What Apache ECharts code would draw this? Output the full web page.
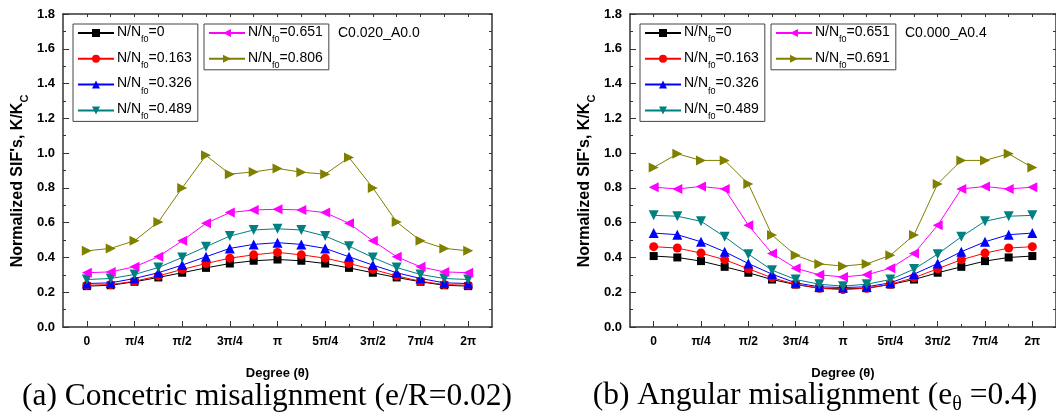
<!DOCTYPE html>
<html>
<head>
<meta charset="utf-8">
<script src="https://cdn.jsdelivr.net/npm/echarts@6/dist/echarts.min.js"></script>
<style>
  html, body { margin: 0; padding: 0; background: #fff; }
  #chart-container { width: 1056px; height: 416px; }
</style>
</head>
<body>
<div id="chart-container"></div>
<script>
// theta positions in steps of pi/8 (0 .. 16)
const steps = [0, 1, 2, 3, 4, 5, 6, 7, 8, 9, 10, 11, 12, 13, 14, 15, 16];
const tickLabels = ["0", "π/4", "π/2", "3π/4", "π", "5π/4", "3π/2", "7π/4", "2π"];

// (a) concentric misalignment, C0.020_A0.0
const leftLevels = ["0", "0.163", "0.326", "0.489", "0.651", "0.806"];
const left0 = [0.235, 0.240, 0.260, 0.285, 0.312, 0.340, 0.365, 0.381, 0.388, 0.381, 0.365, 0.340, 0.312, 0.285, 0.260, 0.240, 0.235];
const left163 = [0.240, 0.244, 0.263, 0.294, 0.331, 0.365, 0.396, 0.415, 0.429, 0.415, 0.396, 0.365, 0.331, 0.294, 0.263, 0.244, 0.240];
const left326 = [0.250, 0.254, 0.279, 0.312, 0.356, 0.404, 0.452, 0.475, 0.485, 0.475, 0.452, 0.404, 0.356, 0.312, 0.279, 0.254, 0.250];
const left489 = [0.273, 0.279, 0.302, 0.342, 0.400, 0.462, 0.523, 0.558, 0.565, 0.558, 0.523, 0.465, 0.400, 0.342, 0.302, 0.279, 0.273];
const left651 = [0.312, 0.317, 0.346, 0.404, 0.496, 0.596, 0.658, 0.673, 0.677, 0.673, 0.658, 0.596, 0.496, 0.404, 0.346, 0.317, 0.312];
const left806 = [0.438, 0.452, 0.496, 0.604, 0.800, 0.987, 0.879, 0.892, 0.912, 0.890, 0.879, 0.975, 0.800, 0.604, 0.496, 0.452, 0.438];

// (b) angular misalignment, C0.000_A0.4
const rightLevels = ["0", "0.163", "0.326", "0.489", "0.651", "0.691"];
const right0 = [0.408, 0.400, 0.379, 0.346, 0.312, 0.273, 0.244, 0.223, 0.219, 0.223, 0.244, 0.273, 0.312, 0.346, 0.379, 0.400, 0.408];
const right163 = [0.462, 0.454, 0.425, 0.387, 0.335, 0.283, 0.246, 0.223, 0.215, 0.223, 0.246, 0.283, 0.335, 0.387, 0.425, 0.454, 0.462];
const right326 = [0.540, 0.531, 0.490, 0.433, 0.365, 0.304, 0.254, 0.231, 0.227, 0.231, 0.254, 0.304, 0.365, 0.433, 0.490, 0.531, 0.540];
const right489 = [0.642, 0.637, 0.608, 0.519, 0.419, 0.327, 0.273, 0.246, 0.235, 0.246, 0.273, 0.333, 0.419, 0.519, 0.608, 0.637, 0.642];
const right651 = [0.804, 0.794, 0.808, 0.794, 0.585, 0.423, 0.338, 0.300, 0.288, 0.300, 0.338, 0.423, 0.585, 0.794, 0.808, 0.794, 0.804];
const right691 = [0.917, 0.996, 0.958, 0.958, 0.823, 0.529, 0.412, 0.363, 0.350, 0.363, 0.412, 0.529, 0.823, 0.958, 0.958, 0.996, 0.917];

(() => {
  const dom = document.getElementById("chart-container");
  const chart = echarts.init(dom, null, { renderer: "canvas" });

  const SANS = "Liberation Sans";
  const SERIF = "'Liberation Serif'";
  const AXIS = "#333";
  const colors = ["#000000", "#ff0000", "#0000ff", "#008080", "#ff00ff", "#808000"];
  const symbols = ["rect", "circle", "triangle", "triangle", "triangle", "triangle"];
  const rotates = [0, 0, 0, 180, 90, -90];
  const sizes = [8, 9, 10, 10, 10, 10];

  const majorSteps = steps.filter((s) => s % 2 === 0);
  const minorSteps = steps.filter((s) => s % 2 === 1);

  const plots = [
    { left: 63, label: "C0.020_A0.0", levels: leftLevels, data: [left0, left163, left326, left489, left651, left806], tag: "L" },
    { left: 630, label: "C0.000_A0.4", levels: rightLevels, data: [right0, right163, right326, right489, right651, right691], tag: "R" },
  ];

  const grid = [], xAxis = [], yAxis = [], series = [], legend = [], graphic = [];

  plots.forEach((p, g) => {
    grid.push({ left: p.left, top: 14, width: 429, height: 313 });
    const base = { type: "value", gridIndex: g, min: -1, max: 17, splitLine: { show: false } };
    // bottom axis with labels and major ticks
    xAxis.push({
      ...base,
      position: "bottom",
      name: "Degree (θ)",
      nameLocation: "middle",
      nameGap: 40,
      nameTextStyle: { fontFamily: SANS, fontWeight: "bold", fontSize: 13, color: "#000" },
      axisLine: { onZero: false, lineStyle: { color: AXIS, width: 1.5 } },
      axisTick: { inside: true, length: 6, customValues: majorSteps, lineStyle: { color: AXIS } },
      axisLabel: {
        customValues: majorSteps,
        margin: 9,
        fontFamily: SANS, fontWeight: "bold", fontSize: 12, color: "#000",
        formatter: (v) => tickLabels[v / 2],
      },
    });
    // minor ticks at odd multiples of pi/8
    xAxis.push({
      ...base,
      position: "bottom",
      axisLine: { show: false, onZero: false },
      axisTick: { inside: true, length: 3, customValues: minorSteps, lineStyle: { color: AXIS } },
      axisLabel: { show: false },
    });
    // top frame
    xAxis.push({
      ...base,
      position: "top",
      axisLine: { onZero: false, lineStyle: { color: AXIS, width: 1.5 } },
      axisTick: { inside: true, length: 3, customValues: steps, lineStyle: { color: AXIS } },
      axisLabel: { show: false },
    });

    yAxis.push({
      type: "value", gridIndex: g, min: 0, max: 1.8, interval: 0.2,
      position: "left",
      splitLine: { show: false },
      axisLine: { show: true, onZero: false, lineStyle: { color: AXIS, width: 1.5 } },
      axisTick: { inside: true, length: 6, lineStyle: { color: AXIS } },
      minorTick: { show: true, splitNumber: 2, length: 3, lineStyle: { color: AXIS } },
      axisLabel: {
        margin: 8,
        fontFamily: SANS, fontWeight: "bold", fontSize: 13, color: "#000",
        formatter: (v) => v.toFixed(1),
      },
    });
    yAxis.push({
      type: "value", gridIndex: g, min: 0, max: 1.8, interval: 0.1,
      position: "right",
      splitLine: { show: false },
      axisLine: { show: true, onZero: false, lineStyle: { color: AXIS, width: 1.5 } },
      axisTick: { inside: true, length: 3, lineStyle: { color: AXIS } },
      axisLabel: { show: false },
    });

    p.levels.forEach((lv, i) => {
      series.push({
        name: p.tag + "|" + lv,
        type: "line",
        xAxisIndex: g * 3,
        yAxisIndex: g * 2,
        data: p.data[i].map((v, k) => [steps[k], v]),
        color: colors[i],
        symbol: symbols[i],
        symbolRotate: rotates[i],
        symbolSize: sizes[i],
        showSymbol: true,
        lineStyle: { width: 1 },
        z: 2 + i,
        animation: false,
      });
    });

    const legendBase = {
      orient: "vertical",
      top: 24,
      padding: [1, 6, 0, 4],
      itemWidth: 36,
      itemHeight: 10,
      itemGap: 6.8,
      borderColor: "#444",
      borderWidth: 1,
      selectedMode: false,
      formatter: (name) => "{n|N/N}{s|f0}{n|=" + name.split("|")[1] + "}",
      textStyle: {
        padding: [0, 0, 0, -2],
        rich: {
          n: { fontFamily: SANS, fontSize: 14, color: "#000", lineHeight: 16, verticalAlign: "top" },
          s: { fontFamily: SANS, fontSize: 9, color: "#000", lineHeight: 10, verticalAlign: "top", padding: [10, 0, 0, 0] },
        },
      },
    };
    legend.push({ ...legendBase, left: p.left + 10, data: p.levels.slice(0, 4).map((l) => p.tag + "|" + l) });
    legend.push({ ...legendBase, left: p.left + 141, data: p.levels.slice(4).map((l) => p.tag + "|" + l) });

    graphic.push({
      type: "text",
      left: p.left + 275,
      top: 26,
      style: { text: p.label, font: "14px " + SANS, fill: "#000" },
    });

    // y axis title, rotated, with subscript C
    graphic.push({
      type: "text",
      x: p.left - 44,
      y: 181,
      rotation: Math.PI / 2,
      style: {
        text: "{t|Normalized SIF's, K/K}{s|C}",
        align: "center",
        verticalAlign: "middle",
        rich: {
          t: { fontFamily: SANS, fontWeight: "bold", fontSize: 16, fill: "#000", lineHeight: 18, verticalAlign: "top" },
          s: { fontFamily: SANS, fontWeight: "bold", fontSize: 11, fill: "#000", lineHeight: 12, verticalAlign: "top", padding: [9, 0, 0, 0] },
        },
      },
    });
  });

  graphic.push({
    type: "text",
    x: 267, y: 397,
    style: {
      text: "(a) Concetric misalignment (e/R=0.02)",
      font: "31.5px " + SERIF, fill: "#000",
      align: "center", verticalAlign: "middle",
    },
  });
  graphic.push({
    type: "text",
    x: 815, y: 397,
    style: {
      text: "{m|(b) Angular misalignment (e}{s|θ}{m| =0.4)}",
      align: "center", verticalAlign: "middle",
      rich: {
        m: { font: "31.5px " + SERIF, fill: "#000", lineHeight: 34, verticalAlign: "top" },
        s: { font: "20px " + SERIF, fill: "#000", lineHeight: 22, verticalAlign: "top", padding: [15, 0, 0, 0] },
      },
    },
  });

  const option = {
    animation: false,
    backgroundColor: "#fff",
    grid,
    xAxis,
    yAxis,
    legend,
    series,
    graphic,
  };

  chart.setOption(option);
  window.addEventListener("resize", chart.resize);
})();
</script>
</body>
</html>
